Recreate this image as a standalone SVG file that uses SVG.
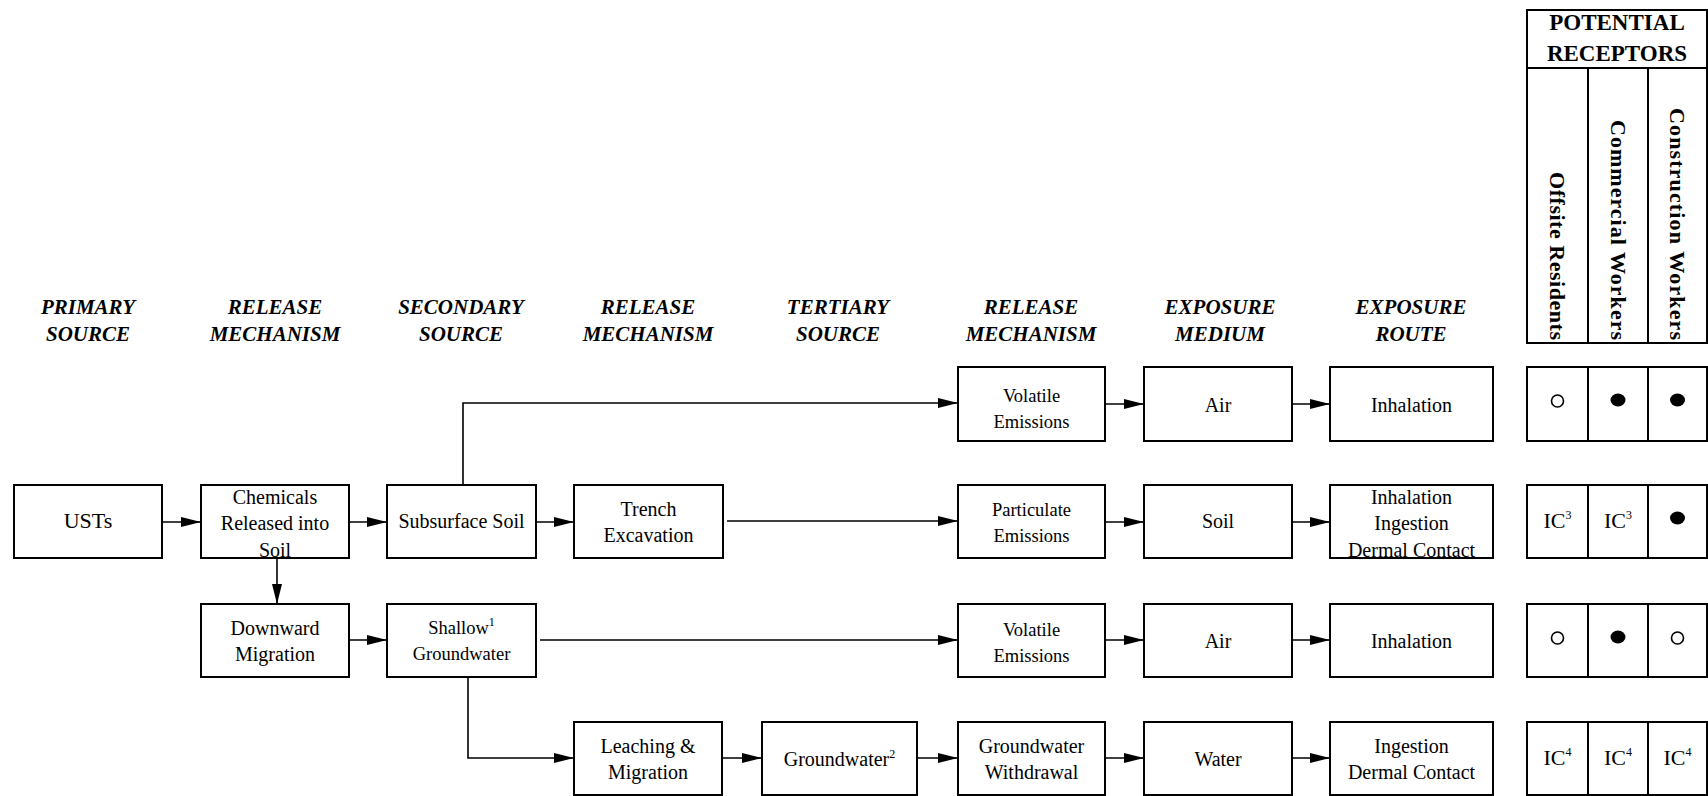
<svg xmlns="http://www.w3.org/2000/svg" width="1708" height="796" viewBox="0 0 1708 796">
<defs>
<style>
.box{fill:#fff;stroke:#000;stroke-width:2}
.t{font-family:"Liberation Serif","Times New Roman",serif;font-size:20px;text-anchor:middle;fill:#000}
.s{font-size:18.5px}
.b{font-size:22px}
.h{font-family:"Liberation Serif","Times New Roman",serif;font-weight:bold;font-style:italic;font-size:21px;text-anchor:middle;fill:#000}
.rh{font-family:"Liberation Serif","Times New Roman",serif;font-weight:bold;font-size:23px;text-anchor:middle;fill:#000}
.rv{font-family:"Liberation Serif","Times New Roman",serif;font-weight:bold;font-size:22px;text-anchor:end;fill:#000}
.c{stroke:#000;stroke-width:1.6;fill:none}
.ln{stroke:#000;stroke-width:2;fill:none}
.dot{fill:#000}
.ring{fill:#fff;stroke:#000;stroke-width:1.6}
.sup{font-size:12px}
</style>
<marker id="ah" markerUnits="userSpaceOnUse" markerWidth="20" markerHeight="10" refX="20" refY="5" orient="auto">
<path d="M0,0 L20,5 L0,10 Z" fill="#000"/>
</marker>
</defs>
<rect width="1708" height="796" fill="#fff"/>

<g id="headers">
<text class="h" x="88" y="314">PRIMARY</text><text class="h" x="88" y="341">SOURCE</text>
<text class="h" x="275" y="314">RELEASE</text><text class="h" x="275" y="341">MECHANISM</text>
<text class="h" x="461" y="314">SECONDARY</text><text class="h" x="461" y="341">SOURCE</text>
<text class="h" x="648" y="314">RELEASE</text><text class="h" x="648" y="341">MECHANISM</text>
<text class="h" x="838" y="314">TERTIARY</text><text class="h" x="838" y="341">SOURCE</text>
<text class="h" x="1031" y="314">RELEASE</text><text class="h" x="1031" y="341">MECHANISM</text>
<text class="h" x="1220" y="314">EXPOSURE</text><text class="h" x="1220" y="341">MEDIUM</text>
<text class="h" x="1411" y="314">EXPOSURE</text><text class="h" x="1411" y="341">ROUTE</text>
</g>

<g id="receptors-header">
<rect class="ln" x="1527" y="10" width="180" height="333"/>
<line class="ln" x1="1527" y1="68" x2="1707" y2="68"/>
<line class="ln" x1="1588" y1="68" x2="1588" y2="343"/>
<line class="ln" x1="1648" y1="68" x2="1648" y2="343"/>
<text class="rh" x="1617" y="30">POTENTIAL</text>
<text class="rh" x="1617" y="61">RECEPTORS</text>
<text class="rv" transform="translate(1550,340) rotate(90)" textLength="168" lengthAdjust="spacing">Offsite Residents</text>
<text class="rv" transform="translate(1611,340) rotate(90)" textLength="220" lengthAdjust="spacing">Commercial Workers</text>
<text class="rv" transform="translate(1670,340) rotate(90)" textLength="232" lengthAdjust="spacing">Construction Workers</text>
</g>

<g id="connectors">
<line class="c" x1="163" y1="522" x2="201" y2="522" marker-end="url(#ah)"/>
<line class="c" x1="349" y1="522" x2="387" y2="522" marker-end="url(#ah)"/>
<line class="c" x1="536" y1="522" x2="574" y2="522" marker-end="url(#ah)"/>
<line class="c" x1="727" y1="521" x2="958" y2="521" marker-end="url(#ah)"/>
<path class="c" d="M463,485 V403 H958" marker-end="url(#ah)"/>
<line class="c" x1="1105" y1="404" x2="1144" y2="404" marker-end="url(#ah)"/>
<line class="c" x1="1292" y1="404" x2="1330" y2="404" marker-end="url(#ah)"/>
<line class="c" x1="1105" y1="522" x2="1144" y2="522" marker-end="url(#ah)"/>
<line class="c" x1="1292" y1="522" x2="1330" y2="522" marker-end="url(#ah)"/>
<line class="c" x1="277" y1="558" x2="277" y2="604" marker-end="url(#ah)"/>
<line class="c" x1="349" y1="640" x2="387" y2="640" marker-end="url(#ah)"/>
<line class="c" x1="540" y1="640" x2="958" y2="640" marker-end="url(#ah)"/>
<line class="c" x1="1105" y1="640" x2="1144" y2="640" marker-end="url(#ah)"/>
<line class="c" x1="1292" y1="640" x2="1330" y2="640" marker-end="url(#ah)"/>
<path class="c" d="M468,677 V758 H574" marker-end="url(#ah)"/>
<line class="c" x1="722" y1="758" x2="762" y2="758" marker-end="url(#ah)"/>
<line class="c" x1="917" y1="758" x2="958" y2="758" marker-end="url(#ah)"/>
<line class="c" x1="1105" y1="758" x2="1144" y2="758" marker-end="url(#ah)"/>
<line class="c" x1="1292" y1="758" x2="1330" y2="758" marker-end="url(#ah)"/>
</g>

<g id="n-usts"><rect class="box" x="14" y="485" width="148" height="73"/><text class="t b" x="88" y="528">USTs</text></g>
<g id="n-chemicals"><rect class="box" x="201" y="485" width="148" height="73"/><text class="t" x="275" y="504">Chemicals</text><text class="t" x="275" y="530">Released into</text><text class="t" x="275" y="557">Soil</text></g>
<g id="n-subsurface"><rect class="box" x="387" y="485" width="149" height="73"/><text class="t" x="461.5" y="528">Subsurface Soil</text></g>
<g id="n-trench"><rect class="box" x="574" y="485" width="149" height="73"/><text class="t" x="648.5" y="516">Trench</text><text class="t" x="648.5" y="542">Excavation</text></g>

<g id="n-volatile1"><rect class="box" x="958" y="367" width="147" height="74"/><text class="t s" x="1031.5" y="402">Volatile</text><text class="t s" x="1031.5" y="428">Emissions</text></g>
<g id="n-air1"><rect class="box" x="1144" y="367" width="148" height="74"/><text class="t" x="1218" y="412">Air</text></g>
<g id="n-inhal1"><rect class="box" x="1330" y="367" width="163" height="74"/><text class="t" x="1411.5" y="412">Inhalation</text></g>

<g id="n-particulate"><rect class="box" x="958" y="485" width="147" height="73"/><text class="t s" x="1031.5" y="516">Particulate</text><text class="t s" x="1031.5" y="542">Emissions</text></g>
<g id="n-soil"><rect class="box" x="1144" y="485" width="148" height="73"/><text class="t" x="1218" y="528">Soil</text></g>
<g id="n-route2"><rect class="box" x="1330" y="485" width="163" height="73"/><text class="t" x="1411.5" y="504">Inhalation</text><text class="t" x="1411.5" y="530">Ingestion</text><text class="t" x="1411.5" y="557">Dermal Contact</text></g>

<g id="n-downward"><rect class="box" x="201" y="604" width="148" height="73"/><text class="t" x="275" y="635">Downward</text><text class="t" x="275" y="661">Migration</text></g>
<g id="n-shallow"><rect class="box" x="387" y="604" width="149" height="73"/><text class="t s" x="461.5" y="634">Shallow<tspan class="sup" dy="-8">1</tspan></text><text class="t s" x="461.5" y="660">Groundwater</text></g>
<g id="n-volatile3"><rect class="box" x="958" y="604" width="147" height="73"/><text class="t s" x="1031.5" y="636">Volatile</text><text class="t s" x="1031.5" y="662">Emissions</text></g>
<g id="n-air3"><rect class="box" x="1144" y="604" width="148" height="73"/><text class="t" x="1218" y="648">Air</text></g>
<g id="n-inhal3"><rect class="box" x="1330" y="604" width="163" height="73"/><text class="t" x="1411.5" y="648">Inhalation</text></g>

<g id="n-leaching"><rect class="box" x="574" y="722" width="148" height="73"/><text class="t" x="648" y="753">Leaching &amp;</text><text class="t" x="648" y="779">Migration</text></g>
<g id="n-groundwater2"><rect class="box" x="762" y="722" width="155" height="73"/><text class="t" x="839.5" y="766">Groundwater<tspan class="sup" dy="-8">2</tspan></text></g>
<g id="n-withdrawal"><rect class="box" x="958" y="722" width="147" height="73"/><text class="t" x="1031.5" y="753">Groundwater</text><text class="t" x="1031.5" y="779">Withdrawal</text></g>
<g id="n-water"><rect class="box" x="1144" y="722" width="148" height="73"/><text class="t" x="1218" y="766">Water</text></g>
<g id="n-route4"><rect class="box" x="1330" y="722" width="163" height="73"/><text class="t" x="1411.5" y="753">Ingestion</text><text class="t" x="1411.5" y="779">Dermal Contact</text></g>

<g id="r-row1">
<rect class="ln" x="1527" y="367" width="180" height="74"/>
<line class="ln" x1="1588" y1="367" x2="1588" y2="441"/><line class="ln" x1="1648" y1="367" x2="1648" y2="441"/>
<circle class="ring" cx="1557.5" cy="401" r="6"/>
<ellipse class="dot" cx="1618" cy="400" rx="7.5" ry="6.5"/>
<ellipse class="dot" cx="1677.5" cy="400" rx="7.5" ry="6.5"/>
</g>
<g id="r-row2">
<rect class="ln" x="1527" y="485" width="180" height="73"/>
<line class="ln" x1="1588" y1="485" x2="1588" y2="558"/><line class="ln" x1="1648" y1="485" x2="1648" y2="558"/>
<text class="t b" x="1557.5" y="528">IC<tspan class="sup" dy="-9">3</tspan></text>
<text class="t b" x="1618" y="528">IC<tspan class="sup" dy="-9">3</tspan></text>
<ellipse class="dot" cx="1677.5" cy="518" rx="7.5" ry="6.5"/>
</g>
<g id="r-row3">
<rect class="ln" x="1527" y="604" width="180" height="73"/>
<line class="ln" x1="1588" y1="604" x2="1588" y2="677"/><line class="ln" x1="1648" y1="604" x2="1648" y2="677"/>
<circle class="ring" cx="1557.5" cy="638" r="6"/>
<ellipse class="dot" cx="1618" cy="637" rx="7.5" ry="6.5"/>
<circle class="ring" cx="1677.5" cy="638" r="6"/>
</g>
<g id="r-row4">
<rect class="ln" x="1527" y="722" width="180" height="73"/>
<line class="ln" x1="1588" y1="722" x2="1588" y2="795"/><line class="ln" x1="1648" y1="722" x2="1648" y2="795"/>
<text class="t b" x="1557.5" y="765">IC<tspan class="sup" dy="-9">4</tspan></text>
<text class="t b" x="1618" y="765">IC<tspan class="sup" dy="-9">4</tspan></text>
<text class="t b" x="1677.5" y="765">IC<tspan class="sup" dy="-9">4</tspan></text>
</g>
</svg>
